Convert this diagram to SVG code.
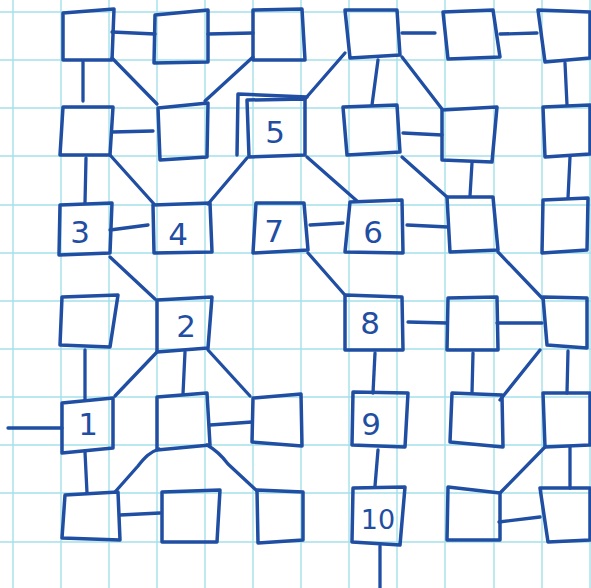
<svg xmlns="http://www.w3.org/2000/svg" width="591" height="588" viewBox="0 0 591 588">
<style>
.grid line{stroke:#a3e0e8;stroke-width:1.4}
.box{fill:none;stroke:#1f4ea3;stroke-width:3.5;stroke-linejoin:round;stroke-linecap:round}
.edge{fill:none;stroke:#1f4ea3;stroke-width:3.3;stroke-linecap:round;stroke-linejoin:round}
.lbl{font-family:"DejaVu Sans","Liberation Sans",sans-serif;font-size:31px;fill:#1f4ea3;text-anchor:middle}
</style>
<rect width="591" height="588" fill="#ffffff"/>
<g class="grid">
<line x1="13" y1="0" x2="13" y2="588"/><line x1="61" y1="0" x2="61" y2="588"/><line x1="109" y1="0" x2="109" y2="588"/><line x1="157" y1="0" x2="157" y2="588"/><line x1="205" y1="0" x2="205" y2="588"/><line x1="253" y1="0" x2="253" y2="588"/><line x1="301" y1="0" x2="301" y2="588"/><line x1="349" y1="0" x2="349" y2="588"/><line x1="397" y1="0" x2="397" y2="588"/><line x1="445" y1="0" x2="445" y2="588"/><line x1="494" y1="0" x2="494" y2="588"/><line x1="542" y1="0" x2="542" y2="588"/><line x1="590" y1="0" x2="590" y2="588"/>
<line x1="0" y1="12" x2="591" y2="12"/><line x1="0" y1="60" x2="591" y2="60"/><line x1="0" y1="108" x2="591" y2="108"/><line x1="0" y1="156" x2="591" y2="156"/><line x1="0" y1="205" x2="591" y2="205"/><line x1="0" y1="253" x2="591" y2="253"/><line x1="0" y1="301" x2="591" y2="301"/><line x1="0" y1="349" x2="591" y2="349"/><line x1="0" y1="397" x2="591" y2="397"/><line x1="0" y1="445" x2="591" y2="445"/><line x1="0" y1="493" x2="591" y2="493"/><line x1="0" y1="542" x2="591" y2="542"/>
</g>
<g id="connectors">
<line class="edge" x1="112" y1="32" x2="155" y2="34"/>
<line class="edge" x1="208" y1="34" x2="253" y2="33"/>
<line class="edge" x1="402" y1="33" x2="435" y2="33"/>
<line class="edge" x1="500" y1="34" x2="537" y2="33"/>
<line class="edge" x1="83" y1="62" x2="83" y2="101"/>
<line class="edge" x1="112" y1="58" x2="157" y2="104"/>
<line class="edge" x1="253" y1="57" x2="205" y2="101"/>
<line class="edge" x1="345" y1="53" x2="305" y2="99"/>
<line class="edge" x1="378" y1="60" x2="372" y2="105"/>
<line class="edge" x1="402" y1="57" x2="442" y2="109"/>
<line class="edge" x1="565" y1="63" x2="567" y2="105"/>
<line class="edge" x1="112" y1="132" x2="153" y2="131"/>
<line class="edge" x1="403" y1="133" x2="442" y2="135"/>
<line class="edge" x1="86" y1="158" x2="85" y2="203"/>
<line class="edge" x1="110" y1="155" x2="154" y2="204"/>
<line class="edge" x1="247" y1="158" x2="208" y2="204"/>
<line class="edge" x1="307" y1="157" x2="357" y2="201"/>
<line class="edge" x1="402" y1="157" x2="447" y2="197"/>
<line class="edge" x1="472" y1="163" x2="470" y2="196"/>
<line class="edge" x1="570" y1="157" x2="568" y2="198"/>
<line class="edge" x1="110" y1="230" x2="148" y2="225"/>
<line class="edge" x1="310" y1="225" x2="343" y2="223"/>
<line class="edge" x1="407" y1="225" x2="448" y2="227"/>
<line class="edge" x1="110" y1="257" x2="155" y2="299"/>
<line class="edge" x1="308" y1="253" x2="344" y2="294"/>
<line class="edge" x1="498" y1="252" x2="542" y2="298"/>
<line class="edge" x1="408" y1="322" x2="447" y2="323"/>
<line class="edge" x1="497" y1="323" x2="542" y2="323"/>
<line class="edge" x1="85" y1="350" x2="85" y2="400"/>
<line class="edge" x1="157" y1="352" x2="115" y2="396"/>
<line class="edge" x1="185" y1="352" x2="183" y2="394"/>
<line class="edge" x1="208" y1="350" x2="250" y2="396"/>
<line class="edge" x1="375" y1="353" x2="373" y2="393"/>
<line class="edge" x1="473" y1="353" x2="472" y2="393"/>
<line class="edge" x1="540" y1="350" x2="500" y2="400"/>
<line class="edge" x1="568" y1="351" x2="567" y2="393"/>
<line class="edge" x1="8" y1="428" x2="62" y2="428"/>
<line class="edge" x1="210" y1="425" x2="252" y2="422"/>
<line class="edge" x1="85" y1="452" x2="87" y2="493"/>
<path class="edge" d="M159,449 C150,452 145,457 138,466 L115,492"/>
<path class="edge" d="M207,445 C216,450 222,456 228,464 L256,490"/>
<line class="edge" x1="378" y1="450" x2="375" y2="486"/>
<line class="edge" x1="545" y1="447" x2="500" y2="493"/>
<line class="edge" x1="570" y1="447" x2="570" y2="488"/>
<line class="edge" x1="120" y1="515" x2="160" y2="513"/>
<line class="edge" x1="499" y1="522" x2="540" y2="517"/>
<line class="edge" x1="380" y1="546" x2="380" y2="588"/>
</g>
<g id="r1c1"><polygon class="box" points="63,13 114,9 112,60 63,60"/></g>
<g id="r1c2"><polygon class="box" points="155,15 208,10 208,62 154,63"/></g>
<g id="r1c3"><polygon class="box" points="253,10 302,9 305,60 253,60"/></g>
<g id="r1c4"><polygon class="box" points="345,10 397,10 400,55 350,58"/></g>
<g id="r1c5"><polygon class="box" points="443,12 493,10 500,57 448,59"/></g>
<g id="r1c6"><polygon class="box" points="538,10 590,12 590,58 545,62"/></g>
<g id="r2c1"><polygon class="box" points="63,107 113,107 110,155 60,155"/></g>
<g id="r2c2"><polygon class="box" points="158,108 208,103 207,157 160,160"/></g>
<g id="n5"><polygon class="box" points="247,100 305,99 305,155 249,157"/><polyline class="box" points="237,155 238,94 307,97"/><text class="lbl" x="275" y="143">5</text></g>
<g id="r2c4"><polygon class="box" points="343,107 397,105 400,152 347,155"/></g>
<g id="r2c5"><polygon class="box" points="442,110 497,107 492,162 442,160"/></g>
<g id="r2c6"><polygon class="box" points="543,107 590,105 590,154 545,157"/></g>
<g id="n3"><polygon class="box" points="60,205 112,203 110,253 59,255"/><text class="lbl" x="80" y="243">3</text></g>
<g id="n4"><polygon class="box" points="153,205 210,203 212,252 154,253"/><text class="lbl" x="178" y="245">4</text></g>
<g id="n7"><polygon class="box" points="256,203 304,203 308,250 253,253"/><text class="lbl" x="274" y="242">7</text></g>
<g id="n6"><polygon class="box" points="350,202 402,200 403,253 345,252"/><text class="lbl" x="373" y="243">6</text></g>
<g id="r3c5"><polygon class="box" points="447,197 493,197 498,250 450,252"/></g>
<g id="r3c6"><polygon class="box" points="543,200 588,198 587,250 542,253"/></g>
<g id="r4c1"><polygon class="box" points="62,297 118,295 110,347 60,345"/></g>
<g id="n2"><polygon class="box" points="157,300 212,297 208,348 157,352"/><text class="lbl" x="186" y="337">2</text></g>
<g id="n8"><polygon class="box" points="345,295 402,297 403,350 345,350"/><text class="lbl" x="370" y="334">8</text></g>
<g id="r4c5"><polygon class="box" points="448,298 497,297 498,350 447,350"/></g>
<g id="r4c6"><polygon class="box" points="543,297 587,298 587,348 547,345"/></g>
<g id="n1"><polygon class="box" points="62,403 113,398 113,448 62,453"/><text class="lbl" x="88" y="435">1</text></g>
<g id="r5c2"><polygon class="box" points="157,397 207,393 210,445 157,450"/></g>
<g id="r5c3"><polygon class="box" points="253,398 301,394 302,446 252,442"/></g>
<g id="n9"><polygon class="box" points="353,392 408,393 405,447 352,445"/><text class="lbl" x="371" y="435">9</text></g>
<g id="r5c5"><polygon class="box" points="452,393 502,395 503,447 450,442"/></g>
<g id="r5c6"><polygon class="box" points="543,393 590,393 590,445 545,447"/></g>
<g id="r6c1"><polygon class="box" points="65,495 118,492 120,540 62,538"/></g>
<g id="r6c2"><polygon class="box" points="162,492 220,490 217,542 162,542"/></g>
<g id="r6c3"><polygon class="box" points="257,490 303,492 303,540 258,543"/></g>
<g id="n10"><polygon class="box" points="353,488 405,487 400,545 352,542"/><text class="lbl" x="378" y="529" style="font-size:27px">10</text></g>
<g id="r6c5"><polygon class="box" points="448,487 500,493 500,540 447,540"/></g>
<g id="r6c6"><polygon class="box" points="540,488 590,488 590,540 548,542"/></g>
</svg>
